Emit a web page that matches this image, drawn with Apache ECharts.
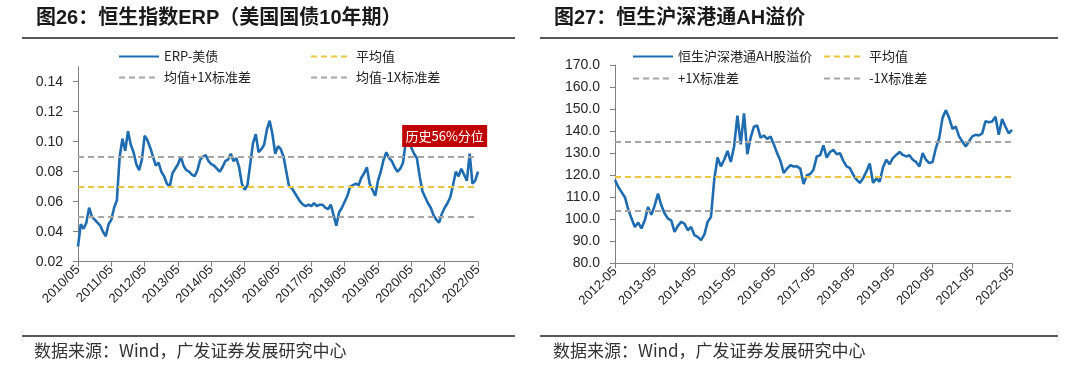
<!DOCTYPE html>
<html><head><meta charset="utf-8">
<script src="https://cdn.jsdelivr.net/npm/echarts@6/dist/echarts.min.js"></script>
<style>html,body{margin:0;padding:0;background:#fff}#c{width:1080px;height:367px}</style>
</head><body><div id="c"></div>
<script>
// ERP (US 10Y) monthly, 2010/05 .. 2022/05
const erpValues = [0.030,0.045,0.042,0.046,0.056,0.050,0.048,0.046,0.044,0.040,
 0.037,0.045,0.048,0.056,0.061,0.090,0.102,0.094,0.107,0.098,
 0.093,0.085,0.081,0.088,0.104,0.101,0.096,0.090,0.084,0.086,
 0.080,0.077,0.072,0.070,0.079,0.082,0.085,0.090,0.084,0.081,
 0.080,0.078,0.077,0.081,0.088,0.090,0.091,0.087,0.085,0.084,
 0.082,0.080,0.083,0.087,0.088,0.092,0.087,0.089,0.083,0.072,
 0.068,0.071,0.085,0.099,0.105,0.093,0.095,0.098,0.108,0.114,
 0.105,0.092,0.097,0.095,0.090,0.080,0.070,0.069,0.066,0.063,
 0.060,0.058,0.057,0.058,0.057,0.059,0.057,0.058,0.058,0.056,
 0.055,0.058,0.051,0.044,0.053,0.056,0.060,0.064,0.070,0.071,
 0.072,0.071,0.076,0.079,0.083,0.072,0.068,0.064,0.074,0.080,
 0.088,0.093,0.089,0.087,0.083,0.080,0.082,0.086,0.100,0.111,
 0.096,0.092,0.089,0.077,0.067,0.063,0.059,0.056,0.051,0.048,
 0.046,0.052,0.056,0.059,0.063,0.071,0.080,0.077,0.082,0.078,
 0.074,0.092,0.072,0.074,0.080];
const erpMean = 0.0729, erpUpper = 0.0916, erpLower = 0.0541;
const erpYTicks = [0.02, 0.04, 0.06, 0.08, 0.10, 0.12, 0.14];

// AH premium monthly, 2012-05 .. 2022-05
const ahValues = [117.8,114.6,112.3,110.0,104.5,100.3,96.5,98.5,95.8,99.5,
 105.6,102.0,106.3,111.6,106.3,102.6,100.3,99.5,94.3,97.0,
 98.8,98.0,95.0,96.5,92.8,92.0,90.5,93.0,98.8,101.0,
 118.0,128.0,124.0,127.0,131.0,126.0,133.0,147.0,134.0,148.0,
 129.5,137.0,142.0,142.5,137.0,138.0,136.5,137.5,134.0,130.0,
 126.5,121.0,123.0,124.5,123.9,124.0,123.0,116.0,120.0,120.5,
 122.5,128.5,129.0,133.5,128.0,130.5,131.5,129.5,130.0,126.5,
 124.0,123.2,120.2,118.0,116.5,118.6,121.7,125.3,116.5,118.5,
 117.0,123.5,127.0,125.0,127.7,129.2,130.5,129.2,128.5,129.0,
 127.0,126.0,123.9,130.0,127.0,125.5,126.0,132.3,136.8,146.0,
 149.5,146.0,141.0,142.0,137.6,135.3,133.0,135.3,137.6,138.3,
 138.0,139.0,144.5,144.0,144.4,146.5,138.3,145.5,142.1,139.0,
 140.6];
const ahMean = 119.5, ahUpper = 135.1, ahLower = 103.9;

function monthLabels(y0, m0, n, sep) {
  const out = [];
  for (let i = 0; i < n; i++) {
    const t = (m0 - 1) + i;
    const y = y0 + Math.floor(t / 12), m = (t % 12) + 1;
    out.push(y + sep + (m < 10 ? '0' + m : '' + m));
  }
  return out;
}
const erpCategories = monthLabels(2010, 5, erpValues.length, '/');
const ahCategories = monthLabels(2012, 5, ahValues.length, '-');

const BLUE = '#1f6cb0', YELLOW = '#eec543', GRAY = '#a6a6a6';
const AXIS = '#808080';
const LAT = '"Liberation Sans", Arial, "Noto Sans CJK SC", sans-serif';
const CJK = '"Noto Sans CJK SC", "Liberation Sans", sans-serif';

function refSeries(name, color, val, idx) {
  return {
    name, type: 'line', xAxisIndex: idx, yAxisIndex: idx, data: [],
    symbol: 'none', lineStyle: { color, width: 2, type: [6, 4] }, itemStyle: { color },
    markLine: { silent: true, symbol: ['none', 'none'], label: { show: false },
      lineStyle: { color, width: 2, type: [6, 4] }, data: [{ yAxis: val }] }
  };
}
function legendAt(name, left, top) {
  return { data: [name], left, top, padding: 0, itemWidth: 40, itemHeight: 12, itemGap: 5,
    itemStyle: { opacity: 0 },
    textStyle: { fontSize: 13, color: '#222', fontFamily: CJK }, selectedMode: false };
}
const xCommon = {
  type: 'category', boundaryGap: false,
  axisLine: { lineStyle: { color: AXIS, width: 1 } },
  axisTick: { show: true, interval: 11, length: 5, lineStyle: { color: AXIS } },
  axisLabel: { interval: 11, rotate: 45, fontSize: 13, color: '#262626', fontFamily: LAT, margin: 6 },
  splitLine: { show: false }
};

const chart = echarts.init(document.getElementById('c'), null, { renderer: 'canvas' });
chart.setOption({
  animation: false,
  backgroundColor: '#fff',
  grid: [
    { left: 78, top: 66.7, width: 400, height: 195 },
    { left: 615, top: 65, width: 397, height: 198.3 }
  ],
  xAxis: [
    Object.assign({}, xCommon, { gridIndex: 0, data: erpCategories }),
    Object.assign({}, xCommon, { gridIndex: 1, data: ahCategories })
  ],
  yAxis: [
    { type: 'value', gridIndex: 0, min: 0.02, max: 0.15,
      axisLine: { show: true, lineStyle: { color: AXIS } },
      axisTick: { show: true, length: 5, customValues: erpYTicks, lineStyle: { color: AXIS } },
      axisLabel: { customValues: erpYTicks, formatter: v => v.toFixed(2), fontSize: 14, color: '#262626', fontFamily: LAT, margin: 15 },
      splitLine: { show: false } },
    { type: 'value', gridIndex: 1, min: 80, max: 170, interval: 10,
      axisLine: { show: true, lineStyle: { color: AXIS } },
      axisTick: { show: true, length: 5, lineStyle: { color: AXIS } },
      axisLabel: { formatter: v => v.toFixed(1), fontSize: 14, color: '#262626', fontFamily: LAT, margin: 15 },
      splitLine: { show: false } }
  ],
  legend: [
    legendAt('ERP-美债', 118, 50),
    legendAt('平均值', 310, 50),
    legendAt('均值+1X标准差', 118, 71),
    legendAt('均值-1X标准差', 310, 71),
    legendAt('恒生沪深港通AH股溢价', 632, 50),
    legendAt('平均值 ', 823, 50),
    legendAt('+1X标准差', 632, 72),
    legendAt('-1X标准差', 823, 72)
  ],
  series: [
    { name: 'ERP-美债', type: 'line', xAxisIndex: 0, yAxisIndex: 0, data: erpValues,
      symbol: 'none', showSymbol: false, lineStyle: { color: BLUE, width: 2.6 }, itemStyle: { color: BLUE }, z: 3,
      markPoint: { silent: true, symbol: 'rect', symbolSize: [85, 22], itemStyle: { color: '#c00000' },
        label: { show: true, formatter: '历史56%分位', color: '#fff', fontSize: 13, fontFamily: CJK },
        data: [{ coord: ['2021/05', 0.1038], value: 0 }] } },
    refSeries('平均值', YELLOW, erpMean, 0),
    refSeries('均值+1X标准差', GRAY, erpUpper, 0),
    refSeries('均值-1X标准差', GRAY, erpLower, 0),
    { name: '恒生沪深港通AH股溢价', type: 'line', xAxisIndex: 1, yAxisIndex: 1, data: ahValues,
      symbol: 'none', showSymbol: false, lineStyle: { color: BLUE, width: 2.6 }, itemStyle: { color: BLUE }, z: 3 },
    refSeries('平均值 ', YELLOW, ahMean, 1),
    refSeries('+1X标准差', GRAY, ahUpper, 1),
    refSeries('-1X标准差', GRAY, ahLower, 1)
  ],
  graphic: [
    { type: 'text', left: 36, top: 8, style: { text: '图26：恒生指数ERP（美国国债10年期）', font: 'bold 20px ' + LAT, fill: '#1a1a1a' } },
    { type: 'text', left: 554, top: 8, style: { text: '图27：恒生沪深港通AH溢价', font: 'bold 20px ' + LAT, fill: '#1a1a1a' } },
    { type: 'line', shape: { x1: 22, y1: 38, x2: 515, y2: 38 }, style: { stroke: '#222', lineWidth: 1.5 } },
    { type: 'line', shape: { x1: 540, y1: 38, x2: 1058, y2: 38 }, style: { stroke: '#222', lineWidth: 1.5 } },
    { type: 'line', shape: { x1: 22, y1: 336, x2: 515, y2: 336 }, style: { stroke: '#222', lineWidth: 1.5 } },
    { type: 'line', shape: { x1: 540, y1: 336, x2: 1058, y2: 336 }, style: { stroke: '#222', lineWidth: 1.5 } },
    { type: 'text', left: 34, top: 342, style: { text: '数据来源：Wind，广发证券发展研究中心', font: '17px ' + CJK, fill: '#333' } },
    { type: 'text', left: 553, top: 342, style: { text: '数据来源：Wind，广发证券发展研究中心', font: '17px ' + CJK, fill: '#333' } }
  ]
});
</script></body></html>
